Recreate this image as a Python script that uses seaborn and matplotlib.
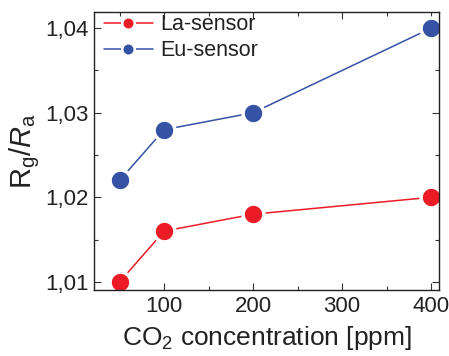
import numpy as np
import pandas as pd
import matplotlib
matplotlib.use("Agg")
import matplotlib.pyplot as plt
import seaborn as sns
from matplotlib.ticker import FuncFormatter, MultipleLocator

# data
co2_ppm = [50, 100, 200, 400]
la_sensor = [1.010, 1.016, 1.018, 1.020]
eu_sensor = [1.022, 1.028, 1.030, 1.040]
series_names = ["La-sensor", "Eu-sensor"]
series_colors = ["#ec1c27", "#3552a5"]

sns.set_style("ticks")
plt.rcParams["font.family"] = ["Liberation Sans", "DejaVu Sans"]
plt.rcParams["mathtext.fontset"] = "custom"
plt.rcParams["mathtext.rm"] = "Liberation Sans"
plt.rcParams["mathtext.it"] = "Liberation Sans:italic"

df = pd.DataFrame({
    "co2": co2_ppm * 2,
    "ratio": la_sensor + eu_sensor,
    "sensor": [series_names[0]] * 4 + [series_names[1]] * 4,
})

fig = plt.figure(figsize=(4.49, 3.56), dpi=100)
ax = fig.add_axes([0.209, 0.185, 0.769, 0.781])

sns.lineplot(data=df, x="co2", y="ratio", hue="sensor", palette=series_colors,
             marker="o", markersize=15, markeredgecolor="white", markeredgewidth=2.5,
             linewidth=1.1, ax=ax, legend=False)

ax.set_xlim(21, 409)
ax.set_ylim(1.00902, 1.0419)
ax.set_xticks([100, 200, 300, 400])
ax.xaxis.set_minor_locator(MultipleLocator(50))
ax.set_yticks([1.01, 1.02, 1.03, 1.04])
ax.yaxis.set_minor_locator(MultipleLocator(0.005))
ax.yaxis.set_major_formatter(FuncFormatter(lambda v, p: f"{v:.2f}".replace(".", ",")))

ax.tick_params(which="both", direction="in", top=True, right=True, labelsize=16,
               width=0.8, color="#333333", colors="#222222")
ax.tick_params(which="major", length=5, pad=4)
ax.tick_params(which="minor", length=3)
for s in ax.spines.values():
    s.set_linewidth(1.0)
    s.set_color("#222222")

ax.set_xlabel(r"CO$_\mathregular{2}$ concentration [ppm]", fontsize=19, labelpad=5,
              color="#222222")
ax.set_ylabel(r"R$_\mathregular{g}$/$\mathit{R}$$_\mathregular{a}$", fontsize=21, labelpad=2,
              color="#222222")

handles = [plt.Line2D([], [], color=c, marker="o", markersize=9, markeredgecolor="white",
                      markeredgewidth=1.8, linewidth=1.1) for c in series_colors]
ax.legend(handles, series_names, loc="upper left", bbox_to_anchor=(0.028, 0.992),
          frameon=False, fontsize=15.5, handlelength=2.3, handletextpad=0.33,
          borderaxespad=0, borderpad=0, labelspacing=0.22, labelcolor="#222222")

fig.savefig("out.png", dpi=100)
